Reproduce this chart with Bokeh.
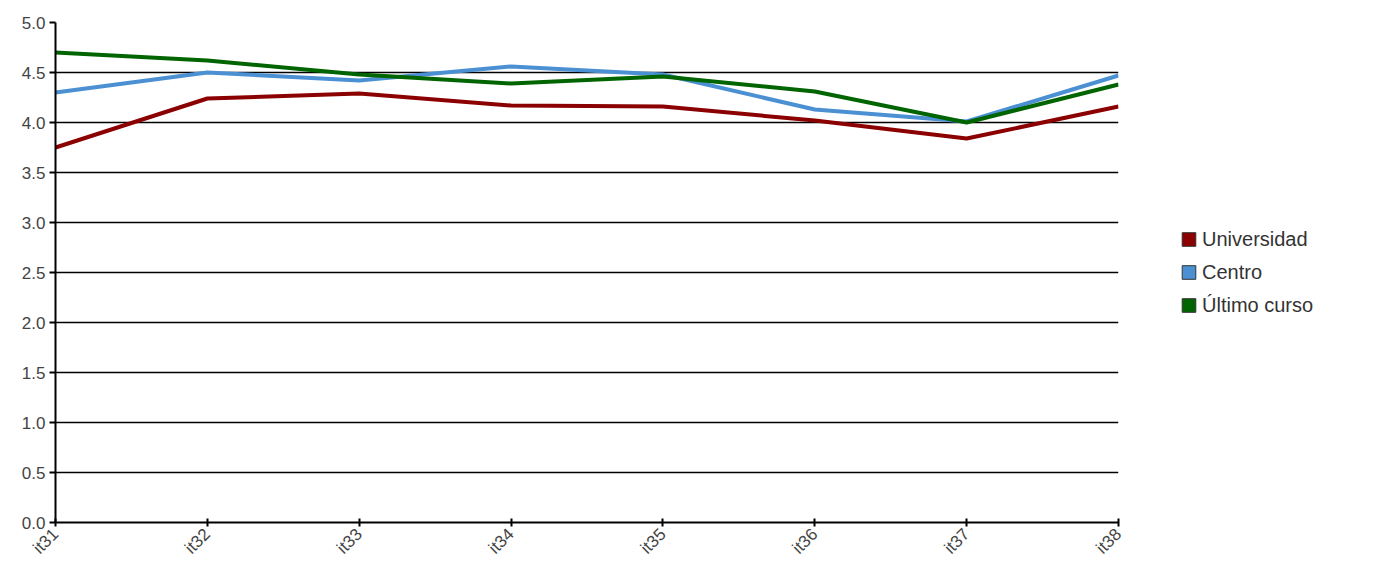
from bokeh.plotting import figure
from bokeh.models import Legend, LegendItem, FixedTicker, Range1d, CustomJSTickFormatter
from bokeh.embed import file_html
from bokeh.resources import INLINE
import math

items = ["it31", "it32", "it33", "it34", "it35", "it36", "it37", "it38"]
universidad = [3.75, 4.24, 4.29, 4.17, 4.16, 4.02, 3.84, 4.16]
centro = [4.30, 4.50, 4.42, 4.56, 4.48, 4.13, 4.01, 4.47]
ultimo = [4.70, 4.62, 4.48, 4.39, 4.46, 4.31, 4.00, 4.38]
names = ["Universidad", "Centro", "Último curso"]
colors = ["#8B0000", "#4A90D2", "#006400"]

xs = list(range(len(items)))
p = figure(x_range=Range1d(0, len(items) - 1), y_range=Range1d(0, 5), frame_width=1063, frame_height=500,
           min_border_left=55, min_border_top=22, min_border_bottom=40, min_border_right=0,
           output_backend="svg", toolbar_location=None)
p.outline_line_color = None
p.xgrid.grid_line_color = None
p.ygrid.grid_line_color = "black"
p.ygrid.grid_line_width = 1.3
p.yaxis.ticker = FixedTicker(ticks=[i * 0.5 for i in range(11)])
p.yaxis.formatter = CustomJSTickFormatter(code="return tick.toFixed(1);")
p.xaxis.ticker = FixedTicker(ticks=xs)
p.xaxis.major_label_overrides = {i: s for i, s in enumerate(items)}
for ax in (p.xaxis, p.yaxis):
    ax.axis_line_width = 2
    ax.major_tick_line_width = 2
    ax.minor_tick_line_color = None
    ax.major_label_text_font = "Arial"
    ax.major_label_text_font_size = "17px"
    ax.major_label_text_color = "#444444"
p.xaxis.major_tick_in = 4
p.xaxis.major_tick_out = 4
p.yaxis.major_tick_in = 0
p.yaxis.major_tick_out = 6
p.yaxis.major_label_standoff = 4
p.xaxis.major_label_orientation = math.pi / 4

for vals, c in zip([universidad, centro, ultimo], colors):
    p.line(xs, vals, line_color=c, line_width=4)

squares = []
for c in colors:
    squares.append(p.quad(left=[0], right=[0.1], bottom=[-10], top=[-9], fill_color=c, line_color="#333333"))
legend = Legend(items=[LegendItem(label=n, renderers=[s]) for n, s in zip(names, squares)],
                location="center_left", border_line_color=None, background_fill_alpha=0,
                label_text_font="Arial", label_text_font_size="20px", label_text_color="#333333",
                glyph_width=17, glyph_height=17, spacing=10, margin=62, padding=4)
p.add_layout(legend, "right")

open("out.html", "w").write(file_html(p, INLINE))
